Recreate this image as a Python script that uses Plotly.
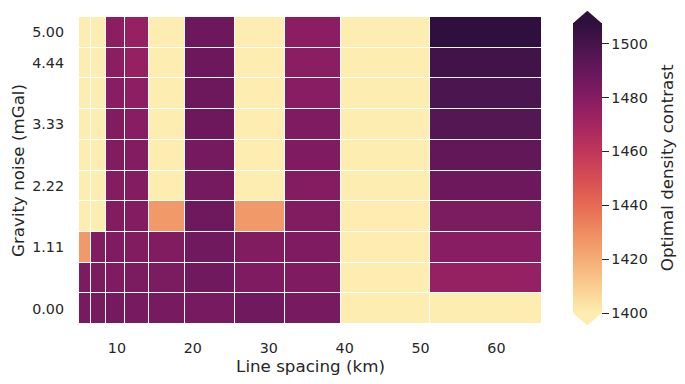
import plotly.graph_objects as go

# ---- data ----
line_spacing = [5.8, 7.4, 9.8, 12.4, 16.0, 22.0, 29.2, 35.2, 43.8, 58.6]   # km (cell centres)
gravity_noise = [0.0, 0.556, 1.111, 1.667, 2.222, 2.778, 3.333, 3.889, 4.444, 5.0]  # mGal
noise_tick_vals = [0.0, 1.111, 2.222, 3.333, 4.444, 5.0]
noise_tick_text = ["0.00", "1.11", "2.22", "3.33", "4.44", "5.00"]
spacing_ticks = [10, 20, 30, 40, 50, 60]
cbar_ticks = [1400, 1420, 1440, 1460, 1480, 1500]

# rows: gravity noise (bottom -> top), columns: line spacing
density = [
    [1484, 1484, 1485, 1484, 1484, 1484, 1486, 1484, 1400, 1400],
    [1483, 1483, 1482, 1483, 1483, 1486, 1482, 1482, 1400, 1474.5],
    [1426, 1481, 1482, 1481, 1481, 1486, 1481, 1482, 1400, 1479],
    [1400, 1400, 1481, 1480, 1426, 1487, 1426, 1481, 1400, 1483],
    [1400, 1400, 1480, 1480, 1400, 1485, 1400, 1480, 1400, 1487.5],
    [1400, 1400, 1481, 1480, 1400, 1485, 1400, 1482, 1400, 1491],
    [1400, 1400, 1481, 1479, 1400, 1487.5, 1400, 1482, 1400, 1495],
    [1400, 1400, 1479, 1477, 1400, 1487.5, 1400, 1479, 1400, 1498],
    [1400, 1400, 1478, 1474.5, 1400, 1487.5, 1400, 1478, 1400, 1501.5],
    [1400, 1400, 1478, 1474.5, 1400, 1487.5, 1400, 1478, 1400, 1507.6],
]
zmin, zmax = 1400, 1507.6

# ---- layout constants (window pixels; page body has an 8px margin) ----
OFF = 8
W, H = 685 - 2 * OFF, 384 - 2 * OFF
L, R, T, B = 79 - OFF, 542 - OFF, 17 - OFF, 324 - OFF
PW, PH = R - L, B - T
TXT = "#262626"
FONT = "DejaVu Sans"
TICK_SIZE = 14.3
LABEL_SIZE = 16.7

def px(x):
    return (x - OFF - L) / PW

def py(y):
    return (B - (y - OFF)) / PH

cb_left, cb_right = 573.0, 601.7
cb_top, cb_bot = 23.3, 313.0

matter = [
    [0.0, "rgb(253,237,176)"], [1/11, "rgb(250,205,145)"], [2/11, "rgb(246,173,119)"],
    [3/11, "rgb(240,142,98)"], [4/11, "rgb(231,109,84)"], [5/11, "rgb(216,80,83)"],
    [6/11, "rgb(195,56,90)"], [7/11, "rgb(168,40,96)"], [8/11, "rgb(138,29,99)"],
    [9/11, "rgb(107,24,93)"], [10/11, "rgb(76,21,80)"], [1.0, "rgb(47,15,61)"],
]

fig = go.Figure(go.Heatmap(
    x=line_spacing, y=gravity_noise, z=density,
    zmin=zmin, zmax=zmax, colorscale=matter,
    xgap=1, ygap=1,
    colorbar=dict(
        x=px(cb_left), xanchor="left", xpad=0,
        y=py((cb_top + cb_bot) / 2), yanchor="middle", ypad=0,
        len=cb_bot - cb_top, lenmode="pixels",
        thickness=cb_right - cb_left, thicknessmode="pixels",
        outlinewidth=0,
        tickvals=cbar_ticks, ticks="outside", ticklen=7, tickwidth=1.2,
        tickprefix="\u00a0\u00a0",
        tickcolor=TXT, tickfont=dict(family=FONT, size=TICK_SIZE, color=TXT),
    ),
))

# colour-bar label
fig.add_annotation(text="Optimal density contrast", xref="paper", yref="paper",
                   x=px(667), y=py((cb_top + cb_bot) / 2), xanchor="center", yanchor="middle",
                   textangle=-90, showarrow=False,
                   font=dict(family=FONT, size=LABEL_SIZE, color=TXT))

# extend triangles of the colour bar
cx = (cb_left + cb_right) / 2
fig.add_shape(type="path", xref="paper", yref="paper",
              path=f"M {px(cb_left)} {py(cb_top)} L {px(cb_right)} {py(cb_top)} L {px(cx)} {py(10.7)} Z",
              fillcolor="rgb(47,15,61)", line=dict(width=0))
fig.add_shape(type="path", xref="paper", yref="paper",
              path=f"M {px(cb_left)} {py(cb_bot)} L {px(cb_right)} {py(cb_bot)} L {px(cx)} {py(325.5)} Z",
              fillcolor="rgb(253,237,176)", line=dict(width=0))

fig.update_layout(
    width=W, height=H,
    margin=dict(l=L, r=W - R, t=T, b=H - B, pad=0, autoexpand=False),
    paper_bgcolor="white", plot_bgcolor="white",
    font=dict(family=FONT, color=TXT, size=TICK_SIZE),
    xaxis=dict(
        tickvals=spacing_ticks, showgrid=False, zeroline=False, showline=False,
        automargin=False,
        ticks="", tickfont=dict(size=TICK_SIZE, color=TXT), ticklabelstandoff=14,
        title=dict(text="Line spacing (km)", font=dict(size=LABEL_SIZE, color=TXT), standoff=8),
    ),
    yaxis=dict(
        tickvals=noise_tick_vals, ticktext=noise_tick_text,
        showgrid=False, zeroline=False, showline=False,
        automargin=False,
        ticks="", tickfont=dict(size=TICK_SIZE, color=TXT), ticklabelstandoff=14,
        title=dict(text="Gravity noise (mGal)", font=dict(size=LABEL_SIZE, color=TXT), standoff=4),
    ),
)

fig.write_html("out.html")
